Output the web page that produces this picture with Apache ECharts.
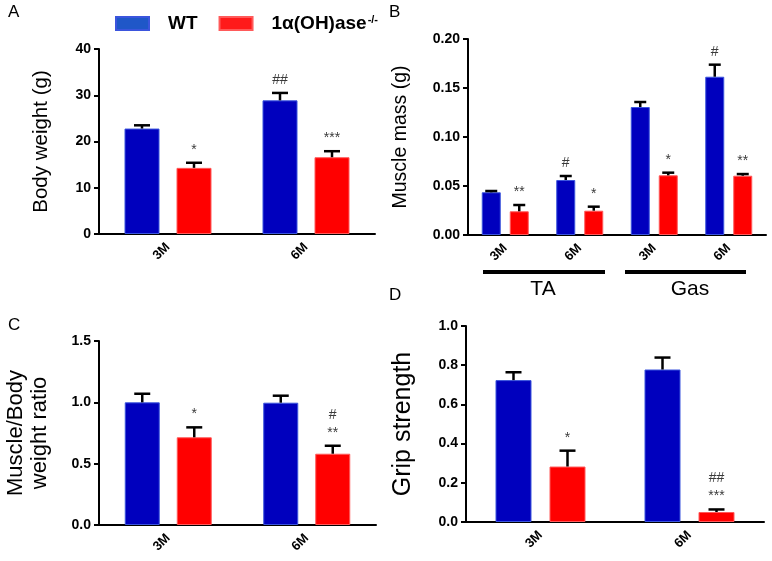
<!DOCTYPE html>
<html><head><meta charset="utf-8">
<script src="https://cdn.jsdelivr.net/npm/echarts@6/dist/echarts.min.js"></script>
<style>html,body{margin:0;padding:0;background:#fff}#c{width:772px;height:561px}</style>
</head><body><div id="c"></div>
<script>
// ---------- data ----------
const months = ['3M', '6M'];
const muscleCats = ['3M', '6M', '3M', '6M'];
const muscleGroups = ['TA', 'Gas'];
const seriesNames = ['WT', 'KO'];

const bodyWT = [22.8, 28.9];
const bodyWTerr = [0.7, 1.6];
const bodyKO = [14.3, 16.6];
const bodyKOerr = [1.1, 1.3];
const bodyAnnWT = ['', '##'];
const bodyAnnKO = ['*', '***'];

const massWT = [0.0436, 0.0561, 0.1306, 0.1615];
const massWTerr = [0.0013, 0.0041, 0.0051, 0.0123];
const massKO = [0.0242, 0.0248, 0.0609, 0.0605];
const massKOerr = [0.0064, 0.0041, 0.0027, 0.0017];
const massAnnWT = ['', '#', '', '#'];
const massAnnKO = ['**', '*', '*', '**'];

const ratioWT = [1.00, 0.997];
const ratioWTerr = [0.07, 0.057];
const ratioKO = [0.715, 0.581];
const ratioKOerr = [0.081, 0.065];
const ratioAnnWT = ['', ''];
const ratioAnnKO = ['*', '#\n**'];

const gripWT = [0.724, 0.778];
const gripWTerr = [0.040, 0.061];
const gripKO = [0.283, 0.051];
const gripKOerr = [0.081, 0.013];
const gripAnnWT = ['', ''];
const gripAnnKO = ['*', '##\n***'];

const yTicksBody = {min: 0, max: 40, interval: 10, dec: 0};
const yTicksMass = {min: 0, max: 0.20, interval: 0.05, dec: 2};
const yTicksRatio = {min: 0, max: 1.5, interval: 0.5, dec: 1};
const yTicksGrip = {min: 0, max: 1.0, interval: 0.2, dec: 1};

// ---------- layout / style ----------
const FONT = 'Arial, "Liberation Sans", sans-serif';
const BLUE = '#0000BE', RED = '#FF0000';
const panels = [
  {grid: {left: 99, top: 49, width: 276, height: 185}, cats: months, wt: bodyWT, wtErr: bodyWTerr, ko: bodyKO, koErr: bodyKOerr,
   annWT: bodyAnnWT, annKO: bodyAnnKO, y: yTicksBody, name: 'Body weight (g)', nameGap: 46, nameSize: 20.5, bw: 35, gap: 17, cap: 8},
  {grid: {left: 468, top: 39, width: 298, height: 196}, cats: muscleCats, wt: massWT, wtErr: massWTerr, ko: massKO, koErr: massKOerr,
   annWT: massAnnWT, annKO: massAnnKO, y: yTicksMass, name: 'Muscle mass (g)', nameGap: 57, nameSize: 19.5, bw: 19, gap: 9, cap: 6},
  {grid: {left: 99, top: 341, width: 277, height: 184}, cats: months, wt: ratioWT, wtErr: ratioWTerr, ko: ratioKO, koErr: ratioKOerr,
   annWT: ratioAnnWT, annKO: ratioAnnKO, y: yTicksRatio, name: 'Muscle/Body\nweight ratio', nameGap: 47, nameSize: 22, bw: 35, gap: 17, cap: 8},
  {grid: {left: 466, top: 326, width: 298, height: 196}, cats: months, wt: gripWT, wtErr: gripWTerr, ko: gripKO, koErr: gripKOerr,
   annWT: gripAnnWT, annKO: gripAnnKO, y: yTicksGrip, name: 'Grip strength', nameGap: 49, nameSize: 25, bw: 36, gap: 18, cap: 8}
];

const grids = [], xAxes = [], yAxes = [], series = [];

function errSeries(p, idx, vals, errs, anns, sign, name) {
  const off = sign * (p.bw + p.gap) / 2;
  return {
    type: 'custom', name: name, xAxisIndex: idx, yAxisIndex: idx, z: 5, silent: true,
    data: vals.map((v, i) => [i, v, v + errs[i]]),
    renderItem: function (params, api) {
      const base = api.coord([api.value(0), api.value(1)]);
      const top = api.coord([api.value(0), api.value(2)]);
      const x = base[0] + off;
      const children = [
        {type: 'line', shape: {x1: x, y1: base[1], x2: x, y2: top[1]}, style: {stroke: '#000', lineWidth: 2.5}},
        {type: 'line', shape: {x1: x - p.cap, y1: top[1], x2: x + p.cap, y2: top[1]}, style: {stroke: '#000', lineWidth: 2.5}}
      ];
      const t = anns[params.dataIndex];
      if (t) {
        children.push({type: 'text', x: x, y: top[1] - 4,
          style: {text: t, fill: '#3a3a3a', font: '14px ' + FONT, align: 'center', verticalAlign: 'bottom', lineHeight: 18}});
      }
      return {type: 'group', children: children};
    }
  };
}

panels.forEach((p, idx) => {
  grids.push(Object.assign({containLabel: false}, p.grid));
  xAxes.push({
    type: 'category', gridIndex: idx, data: p.cats,
    axisLine: {lineStyle: {color: '#000', width: 2}},
    axisTick: {alignWithLabel: true, length: 5, lineStyle: {color: '#000', width: 2}},
    axisLabel: {rotate: 45, color: '#000', fontWeight: 'bold', fontSize: 13, fontFamily: FONT, margin: 11, interval: 0},
    splitLine: {show: false}
  });
  yAxes.push({
    type: 'value', gridIndex: idx, min: p.y.min, max: p.y.max, interval: p.y.interval,
    name: p.name, nameLocation: 'middle', nameGap: p.nameGap,
    nameTextStyle: {fontSize: p.nameSize, color: '#000', fontFamily: FONT, lineHeight: p.nameSize + 2},
    axisLine: {show: true, lineStyle: {color: '#000', width: 2}},
    axisTick: {show: true, length: 5, lineStyle: {color: '#000', width: 2}},
    axisLabel: {color: '#000', fontWeight: 'bold', fontSize: 14, fontFamily: FONT, margin: 8,
      formatter: v => v.toFixed(p.y.dec)},
    splitLine: {show: false}
  });
  const gapPct = (p.gap / p.bw * 100) + '%';
  series.push({type: 'bar', name: 'WT', xAxisIndex: idx, yAxisIndex: idx, data: p.wt, barWidth: p.bw, barGap: gapPct,
    itemStyle: {color: BLUE, borderColor: '#3b55dd', borderWidth: 1}, silent: true});
  series.push({type: 'bar', name: 'KO', xAxisIndex: idx, yAxisIndex: idx, data: p.ko, barWidth: p.bw, barGap: gapPct,
    itemStyle: {color: RED, borderColor: '#ff5a5a', borderWidth: 1}, silent: true});
  series.push(errSeries(p, idx, p.wt, p.wtErr, p.annWT, -1, 'WT'));
  series.push(errSeries(p, idx, p.ko, p.koErr, p.annKO, 1, 'KO'));
});

const letterStyle = {fill: '#000', font: '17px ' + FONT};
const graphic = [
  {type: 'text', left: 8, top: 4, style: Object.assign({text: 'A'}, letterStyle)},
  {type: 'text', left: 389, top: 4, style: Object.assign({text: 'B'}, letterStyle)},
  {type: 'text', left: 8, top: 317, style: Object.assign({text: 'C'}, letterStyle)},
  {type: 'text', left: 389, top: 287, style: Object.assign({text: 'D'}, letterStyle)},
  {type: 'rect', shape: {x: 483, y: 270, width: 122, height: 4}, style: {fill: '#000'}},
  {type: 'rect', shape: {x: 625, y: 270, width: 121, height: 4}, style: {fill: '#000'}},
  {type: 'text', x: 543, y: 289, style: {text: muscleGroups[0], fill: '#000', font: '21px ' + FONT, align: 'center', verticalAlign: 'middle'}},
  {type: 'text', x: 690, y: 289, style: {text: muscleGroups[1], fill: '#000', font: '21px ' + FONT, align: 'center', verticalAlign: 'middle'}}
];

const chart = echarts.init(document.getElementById('c'), null, {renderer: 'canvas'});
chart.setOption({
  animation: false,
  backgroundColor: '#fff',
  legend: {
    left: 110, top: 9, itemWidth: 33, itemHeight: 13, itemGap: 21, icon: 'rect', selectedMode: false,
    data: [{name: seriesNames[0], itemStyle: {color: '#1f57c8'}}, {name: seriesNames[1], itemStyle: {color: '#ff1a1a'}}],
    formatter: n => n === 'WT' ? 'WT' : '1α(OH)ase{sup|-/-}',
    textStyle: {fontSize: 19, fontWeight: 'bold', color: '#000', fontFamily: FONT, padding: [0, 0, 0, 14],
      rich: {sup: {fontSize: 11, fontWeight: 'bold', color: '#000', fontFamily: FONT, verticalAlign: 'top', padding: [0, 0, 0, 1]}}}
  },
  grid: grids, xAxis: xAxes, yAxis: yAxes, series: series, graphic: graphic
});
</script>
</body></html>
